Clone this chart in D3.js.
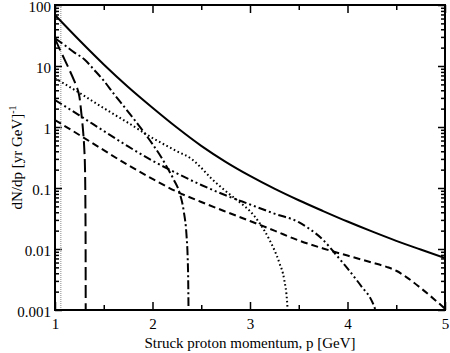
<!DOCTYPE html>
<head>
  <meta charset="utf-8" />
  <script src="https://d3js.org/d3.v7.min.js"></script>
  <style>
    body { margin: 0; background: #fff; }
    text { font-family: "Liberation Serif", "DejaVu Serif", serif; fill: #000; }
    .frame { fill: none; stroke: #000; stroke-width: 2px; }
    .axis path { display: none; }
    .axis line { stroke: #000; stroke-width: 1.5px; }
    .axis text { font-size: 15px; }
    .curve { fill: none; stroke: #000; stroke-width: 2px; }
  </style>
</head>

<body>
  <script>
    var width = 450,
      height = 353;

    // tick labels
    var xTicks = [1, 2, 3, 4, 5];
    var yTicks = [100, 10, 1, 0.1, 0.01, 0.001];
    var yTickLabels = ["100", "10", "1", "0.1", "0.01", "0.001"];

    // curves: x = p [GeV], y = dN/dp
    var solidX = [1.0, 1.25, 1.5, 1.75, 2.0, 2.25, 2.5, 2.75, 3.0, 3.25, 3.5, 3.75, 4.0, 4.25, 4.5, 4.75, 5.0];
    var solidY = [68.5, 26.4, 10.6, 4.53, 2.07, 0.98, 0.491, 0.269, 0.158, 0.0977, 0.063, 0.0419, 0.0282, 0.0194, 0.0136, 0.0098, 0.0071];

    var longDashX = [1.0, 1.05, 1.1, 1.15, 1.2, 1.222, 1.25, 1.274, 1.29, 1.30, 1.308, 1.312, 1.314, 1.315];
    var longDashY = [28.2, 18.6, 12.6, 8.5, 5.6, 4.6, 3.16, 1.48, 0.79, 0.45, 0.2, 0.05, 0.01, 0.0006];

    var dashDotX = [1.0, 1.1, 1.2, 1.3, 1.4, 1.5, 1.6, 1.7, 1.8, 1.9, 2.0, 2.1, 2.16, 2.22, 2.28, 2.32, 2.35, 2.36, 2.366, 2.37];
    var dashDotY = [28.4, 21.9, 16.6, 12.9, 8.7, 5.75, 3.55, 2.24, 1.41, 0.87, 0.525, 0.30, 0.204, 0.135, 0.081, 0.042, 0.0158, 0.0079, 0.0032, 0.0008];

    var dottedX = [1.0, 1.25, 1.5, 1.75, 2.0, 2.25, 2.4, 2.5, 2.6, 2.75, 2.9, 3.0, 3.1, 3.2, 3.3, 3.35, 3.38, 3.39];
    var dottedY = [6.3, 3.63, 2.04, 1.17, 0.66, 0.40, 0.30, 0.214, 0.145, 0.089, 0.0575, 0.0417, 0.0263, 0.0141, 0.006, 0.0032, 0.0014, 0.0008];

    var dashDotDotX = [1.0, 1.25, 1.5, 1.75, 2.0, 2.25, 2.5, 2.75, 3.0, 3.25, 3.5, 3.6, 3.75, 3.87, 4.0, 4.146, 4.25, 4.28, 4.3];
    var dashDotDotY = [2.77, 1.55, 0.86, 0.48, 0.28, 0.174, 0.112, 0.076, 0.0537, 0.038, 0.0275, 0.0219, 0.0141, 0.0085, 0.0048, 0.0024, 0.0014, 0.00107, 0.0008];

    var dashedX = [1.0, 1.25, 1.5, 1.75, 2.0, 2.25, 2.5, 2.75, 3.0, 3.25, 3.5, 3.75, 4.0, 4.25, 4.4, 4.5, 4.6, 4.75, 4.9, 5.0];
    var dashedY = [1.30, 0.74, 0.417, 0.237, 0.141, 0.087, 0.059, 0.041, 0.0288, 0.020, 0.0138, 0.0102, 0.0078, 0.006, 0.0051, 0.0044, 0.0035, 0.0023, 0.00145, 0.00105];

    // thin threshold line
    var thresholdX = [1.06, 1.06];
    var thresholdY = [0.001, 100];

    var margin = { top: 5, right: 5, bottom: 43, left: 55 };
    var x0 = margin.left, x1 = width - margin.right;
    var y0 = height - margin.bottom, y1 = margin.top;

    var svg = d3.select("body").append("svg")
      .attr("width", width)
      .attr("height", height);

    var x = d3.scaleLinear().domain([1, 5]).range([x0, x1]);
    var y = d3.scaleLog().domain([0.001, 100]).range([y0, y1]);

    svg.append("clipPath").attr("id", "clip")
      .append("rect")
      .attr("x", x0).attr("y", y1)
      .attr("width", x1 - x0).attr("height", y0 - y1);

    // minor ticks
    var xMinor = d3.range(1.5, 5, 1);
    var yMinor = [];
    [0.001, 0.01, 0.1, 1, 10].forEach(function (d) {
      for (var k = 2; k <= 9; k++) yMinor.push(d * k);
    });

    function addAxis(axis, tx, ty) {
      return svg.append("g").attr("class", "axis")
        .attr("transform", "translate(" + tx + "," + ty + ")")
        .call(axis);
    }

    // bottom
    addAxis(d3.axisBottom(x).tickValues(xTicks).tickSize(-8).tickPadding(8).tickFormat(d3.format("d")), 0, y0);
    addAxis(d3.axisBottom(x).tickValues(xMinor).tickSize(-5).tickFormat(""), 0, y0);
    // top
    addAxis(d3.axisTop(x).tickValues(xTicks).tickSize(-8).tickFormat(""), 0, y1);
    addAxis(d3.axisTop(x).tickValues(xMinor).tickSize(-5).tickFormat(""), 0, y1);
    // left
    addAxis(d3.axisLeft(y).tickValues(yTicks).tickSize(-7).tickPadding(4)
      .tickFormat(function (d, i) { return yTickLabels[i]; }), x0, 0)
      .selectAll("text").attr("dy", "0.42em");
    addAxis(d3.axisLeft(y).tickValues(yMinor).tickSize(-4).tickFormat(""), x0, 0);
    // right
    addAxis(d3.axisRight(y).tickValues(yTicks).tickSize(-7).tickFormat(""), x1, 0);
    addAxis(d3.axisRight(y).tickValues(yMinor).tickSize(-4).tickFormat(""), x1, 0);

    var line = d3.line()
      .x(function (d) { return x(d[0]); })
      .y(function (d) { return y(d[1]); })
      .curve(d3.curveMonotoneX);

    var series = [
      { xs: thresholdX, ys: thresholdY, dash: "1,1", width: 1, color: "#888" },
      { xs: solidX, ys: solidY, dash: null, width: 2, color: "#000" },
      { xs: longDashX, ys: longDashY, dash: "13,5", width: 2, color: "#000" },
      { xs: dashDotX, ys: dashDotY, dash: "9,3,2,3", width: 2, color: "#000" },
      { xs: dottedX, ys: dottedY, dash: "1.6,2.6", width: 2, color: "#000" },
      { xs: dashDotDotX, ys: dashDotDotY, dash: "8,3,2,3,2,3", width: 2, color: "#000" },
      { xs: dashedX, ys: dashedY, dash: "7,4", width: 2, color: "#000" }
    ];

    svg.append("g").attr("clip-path", "url(#clip)")
      .selectAll("path")
      .data(series)
      .join("path")
      .attr("class", "curve")
      .attr("d", function (s) { return line(d3.zip(s.xs, s.ys)); })
      .style("stroke", function (s) { return s.color; })
      .style("stroke-width", function (s) { return s.width; })
      .style("stroke-dasharray", function (s) { return s.dash; });

    svg.append("rect").attr("class", "frame")
      .attr("x", x0).attr("y", y1)
      .attr("width", x1 - x0).attr("height", y0 - y1);

    // axis titles
    svg.append("text")
      .attr("x", (x0 + x1) / 2)
      .attr("y", 348)
      .attr("text-anchor", "middle")
      .style("font-size", "15px")
      .text("Struck proton momentum, p [GeV]");

    var yt = svg.append("text")
      .attr("transform", "translate(22," + (y0 + y1) / 2 + ") rotate(-90)")
      .attr("text-anchor", "middle")
      .style("font-size", "15px");
    yt.append("tspan").text("dN/dp [yr GeV]");
    yt.append("tspan").attr("dy", -6).style("font-size", "10px").text("-1");
  </script>
</body>
